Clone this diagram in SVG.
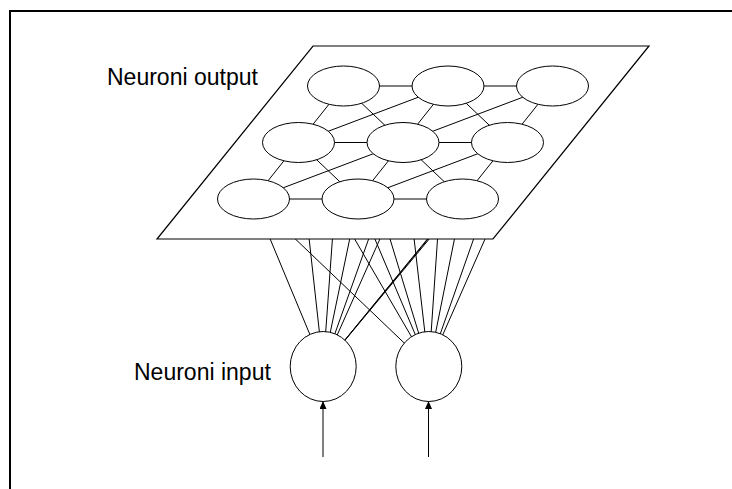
<svg xmlns="http://www.w3.org/2000/svg" width="732" height="489" viewBox="0 0 732 489">
  <style>
    .ln { stroke: #000; stroke-width: 1; fill: none; }
    .node { fill: #fff; stroke: #000; stroke-width: 1; }
    .plane { fill: #fff; stroke: #000; stroke-width: 1.2; }
    .lbl { font-family: "Liberation Sans", Arial, sans-serif; font-size: 23px; fill: #000; }
  </style>
  <defs>
    <marker id="arr" markerUnits="userSpaceOnUse" markerWidth="8" markerHeight="10" refX="7" refY="3.5" orient="auto">
      <path d="M0,0 L8,3.5 L0,7 Z" fill="#000"/>
    </marker>
  </defs>
  <rect width="732" height="489" fill="#fff"/>
  <!-- frame -->
  <path d="M10,489 L10,11 L732,11" fill="none" stroke="#000" stroke-width="2"/>

  <!-- connectors from input neurons to output neurons (behind plane) -->
  <g id="connectors-input" class="ln">
    <line x1="323.2" y1="366.5" x2="253.5" y2="199"/>
    <line x1="323.2" y1="366.5" x2="358" y2="199"/>
    <line x1="323.2" y1="366.5" x2="462.5" y2="199"/>
    <line x1="323.2" y1="366.5" x2="298.5" y2="142.5"/>
    <line x1="323.2" y1="366.5" x2="403" y2="142.5"/>
    <line x1="323.2" y1="366.5" x2="507.5" y2="142.5"/>
    <line x1="323.2" y1="366.5" x2="343.5" y2="86"/>
    <line x1="323.2" y1="366.5" x2="448" y2="86"/>
    <line x1="323.2" y1="366.5" x2="552.5" y2="86"/>
    <line x1="428.8" y1="366.5" x2="253.5" y2="199"/>
    <line x1="428.8" y1="366.5" x2="358" y2="199"/>
    <line x1="428.8" y1="366.5" x2="462.5" y2="199"/>
    <line x1="428.8" y1="366.5" x2="298.5" y2="142.5"/>
    <line x1="428.8" y1="366.5" x2="403" y2="142.5"/>
    <line x1="428.8" y1="366.5" x2="507.5" y2="142.5"/>
    <line x1="428.8" y1="366.5" x2="343.5" y2="86"/>
    <line x1="428.8" y1="366.5" x2="448" y2="86"/>
    <line x1="428.8" y1="366.5" x2="552.5" y2="86"/>
  </g>

  <!-- output plane -->
  <polygon id="plane" class="plane" points="313,46 649,46 493,239 157,239"/>

  <!-- lateral connectors among output neurons -->
  <g id="connectors-output" class="ln">
    <!-- horizontal -->
    <line x1="343.5" y1="86" x2="448" y2="86"/>
    <line x1="448" y1="86" x2="552.5" y2="86"/>
    <line x1="298.5" y1="142.5" x2="403" y2="142.5"/>
    <line x1="403" y1="142.5" x2="507.5" y2="142.5"/>
    <line x1="253.5" y1="199" x2="358" y2="199"/>
    <line x1="358" y1="199" x2="462.5" y2="199"/>
    <!-- row 2 to row 1 -->
    <line x1="298.5" y1="142.5" x2="343.5" y2="86"/>
    <line x1="403" y1="142.5" x2="448" y2="86"/>
    <line x1="507.5" y1="142.5" x2="552.5" y2="86"/>
    <line x1="403" y1="142.5" x2="343.5" y2="86"/>
    <line x1="507.5" y1="142.5" x2="448" y2="86"/>
    <line x1="298.5" y1="142.5" x2="448" y2="86"/>
    <line x1="403" y1="142.5" x2="552.5" y2="86"/>
    <!-- row 3 to row 2 -->
    <line x1="253.5" y1="199" x2="298.5" y2="142.5"/>
    <line x1="358" y1="199" x2="403" y2="142.5"/>
    <line x1="462.5" y1="199" x2="507.5" y2="142.5"/>
    <line x1="358" y1="199" x2="298.5" y2="142.5"/>
    <line x1="462.5" y1="199" x2="403" y2="142.5"/>
    <line x1="253.5" y1="199" x2="403" y2="142.5"/>
    <line x1="358" y1="199" x2="507.5" y2="142.5"/>
  </g>

  <!-- output neurons -->
  <g id="out-1-1"><ellipse class="node" cx="343.5" cy="86" rx="36" ry="20"/></g>
  <g id="out-1-2"><ellipse class="node" cx="448" cy="86" rx="36" ry="20"/></g>
  <g id="out-1-3"><ellipse class="node" cx="552.5" cy="86" rx="36" ry="20"/></g>
  <g id="out-2-1"><ellipse class="node" cx="298.5" cy="142.5" rx="36" ry="20"/></g>
  <g id="out-2-2"><ellipse class="node" cx="403" cy="142.5" rx="36" ry="20"/></g>
  <g id="out-2-3"><ellipse class="node" cx="507.5" cy="142.5" rx="36" ry="20"/></g>
  <g id="out-3-1"><ellipse class="node" cx="253.5" cy="199" rx="36" ry="20"/></g>
  <g id="out-3-2"><ellipse class="node" cx="358" cy="199" rx="36" ry="20"/></g>
  <g id="out-3-3"><ellipse class="node" cx="462.5" cy="199" rx="36" ry="20"/></g>

  <!-- input neurons -->
  <g id="in-1"><ellipse class="node" cx="323.2" cy="366.5" rx="33" ry="35"/></g>
  <g id="in-2"><ellipse class="node" cx="428.8" cy="366.5" rx="33" ry="35"/></g>

  <!-- input arrows -->
  <g id="connectors-arrows" class="ln">
    <line x1="323" y1="457" x2="323" y2="402" marker-end="url(#arr)"/>
    <line x1="428.5" y1="457" x2="428.5" y2="402" marker-end="url(#arr)"/>
  </g>

  <!-- labels -->
  <g id="labels">
    <text class="lbl" x="107" y="85">Neuroni output</text>
    <text class="lbl" x="134" y="380">Neuroni input</text>
  </g>
</svg>
